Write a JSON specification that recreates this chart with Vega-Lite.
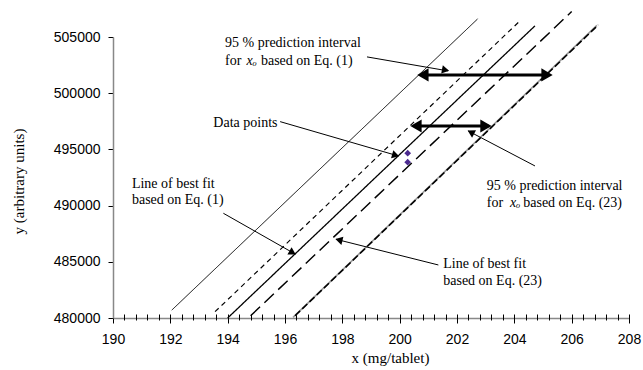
{
  "$schema": "https://vega.github.io/schema/vega-lite/v6.json",
  "width": 516,
  "height": 281,
  "autosize": {"type": "none"},
  "padding": {"left": 113, "top": 37, "right": 14, "bottom": 52},
  "background": "white",
  "config": {"view": {"stroke": null}, "axis": {"grid": false}},
  "datasets": {
    "lines": [
      {"series": "PI1U", "x": 192.05, "y": 480700}, {"series": "PI1U", "x": 202.72, "y": 506610},
      {"series": "PI23U", "x": 193.56, "y": 480560}, {"series": "PI23U", "x": 204.17, "y": 506370},
      {"series": "Fit1", "x": 194.0, "y": 480000}, {"series": "Fit1", "x": 204.72, "y": 505990},
      {"series": "Fit23", "x": 194.8, "y": 480200}, {"series": "Fit23", "x": 206.0, "y": 507260},
      {"series": "PI1L", "x": 196.35, "y": 480200}, {"series": "PI1L", "x": 206.93, "y": 506080}
    ],
    "gray": [{"x": 196.28, "y": 480050}, {"x": 206.88, "y": 506040}],
    "points": [{"x": 200.28, "y": 494660}, {"x": 200.28, "y": 493860}],
    "dbl": [
      {"y": 501630, "x": 200.75, "x2": 205.2},
      {"y": 497090, "x": 200.5, "x2": 203.1}
    ],
    "dblheads": [
      {"y": 501630, "x": 200.81, "dir": "left"},
      {"y": 501630, "x": 205.14, "dir": "right"},
      {"y": 497090, "x": 200.57, "dir": "left"},
      {"y": 497090, "x": 203.01, "dir": "right"}
    ],
    "arrows": [
      {"x": 198.86, "y": 503229, "x2": 201.69, "y2": 501983},
      {"x": 195.83, "y": 497471, "x2": 199.95, "y2": 494418},
      {"x": 193.85, "y": 489318, "x2": 196.35, "y2": 485696},
      {"x": 204.72, "y": 493528, "x2": 202.39, "y2": 496643},
      {"x": 201.35, "y": 484717, "x2": 197.78, "y2": 487004}
    ],
    "heads": [
      {"x": 201.56, "y": 502081, "heading": 101},
      {"x": 199.82, "y": 494516, "heading": 106},
      {"x": 196.23, "y": 485874, "heading": 120},
      {"x": 202.52, "y": 496474, "heading": 298},
      {"x": 197.92, "y": 486915, "heading": 284}
    ],
    "labels": [
      {"x": 193.91, "y": 504119, "label": "95 % prediction interval"},
      {"x": 193.91, "y": 502517, "label": "for"},
      {"x": 195.16, "y": 502517, "label": "based on Eq. (1)"},
      {"x": 193.5, "y": 496972, "label": "Data points"},
      {"x": 190.66, "y": 491597, "label": "Line of best fit"},
      {"x": 190.66, "y": 490146, "label": "based on Eq. (1)"},
      {"x": 203.04, "y": 491419, "label": "95 % prediction interval"},
      {"x": 203.04, "y": 489852, "label": "for"},
      {"x": 204.31, "y": 489852, "label": "based on Eq. (23)"},
      {"x": 201.52, "y": 484423, "label": "Line of best fit"},
      {"x": 201.52, "y": 482937, "label": "based on Eq. (23)"}
    ],
    "italics": [
      {"x": 194.66, "y": 502517, "label": "xₒ"},
      {"x": 203.85, "y": 489852, "label": "xₒ"}
    ]
  },
  "resolve": {"axis": {"x": "independent", "y": "independent"}},
  "layer": [
    {
      "data": {"name": "gray"},
      "mark": {"type": "line", "color": "#9a9a9a", "strokeWidth": 1.6},
      "encoding": {
        "x": {
          "field": "x", "type": "quantitative", "scale": {"domain": [190, 208], "nice": false, "zero": false},
          "axis": {"orient": "bottom", "domain": true, "domainColor": "#888888", "domainWidth": 1.5, "ticks": false, "labels": false, "title": null}
        },
        "y": {"field": "y", "type": "quantitative", "scale": {"domain": [480000, 505000], "nice": false, "zero": false}, "axis": null}
      }
    },
    {
      "data": {"name": "lines"},
      "mark": {"type": "line", "color": "#000000"},
      "encoding": {
        "x": {
          "field": "x", "type": "quantitative",
          "axis": {
            "orient": "bottom", "offset": -4,
            "values": [190, 192, 194, 196, 198, 200, 202, 204, 206, 208],
            "domain": false,
            "tickSize": 9, "tickColor": "#000000", "tickWidth": 1,
            "labelFont": "Liberation Sans", "labelFontSize": 14, "labelColor": "#000000", "labelPadding": 9,
            "labelFlush": false, "labelOverlap": false,
            "title": "x (mg/tablet)", "titleFont": "Liberation Serif", "titleFontSize": 15, "titleFontWeight": "normal",
            "titleColor": "#000000", "titleX": 277, "titleY": 43, "titleAlign": "center", "titleBaseline": "middle"
          }
        },
        "y": {
          "field": "y", "type": "quantitative",
          "axis": {
            "orient": "left",
            "values": [480000, 485000, 490000, 495000, 500000, 505000], "format": "d",
            "tickSize": 5, "tickColor": "#000000", "domainColor": "#888888", "domainWidth": 1.5,
            "labelFont": "Liberation Sans", "labelFontSize": 14, "labelColor": "#000000", "labelPadding": 8,
            "labelOverlap": false,
            "title": "y (arbitrary units)", "titleFont": "Liberation Serif", "titleFontSize": 15, "titleFontWeight": "normal",
            "titleColor": "#000000", "titleX": -95, "titleY": 144, "titleAlign": "center", "titleBaseline": "middle", "titleAngle": -90
          }
        },
        "detail": {"field": "series", "type": "nominal"},
        "strokeDash": {
          "field": "series", "type": "nominal",
          "scale": {"domain": ["PI1U", "PI23U", "Fit1", "Fit23", "PI1L"], "range": [[1, 0], [5, 4], [1, 0], [13, 6], [7, 3]]},
          "legend": null
        },
        "strokeWidth": {
          "field": "series", "type": "ordinal",
          "scale": {"domain": ["PI1U", "PI23U", "Fit1", "Fit23", "PI1L"], "range": [1, 1.6, 2.6, 2.6, 1.4]},
          "legend": null
        }
      }
    },
    {
      "data": {"name": "points"},
      "mark": {"type": "point", "shape": "diamond", "filled": true, "color": "#4b2a8f", "size": 45, "opacity": 1},
      "encoding": {
        "x": {
          "field": "x", "type": "quantitative",
          "axis": {
            "orient": "bottom", "offset": -4,
            "values": [190.4, 190.8, 191.2, 191.6, 192.4, 192.8, 193.2, 193.6, 194.4, 194.8, 195.2, 195.6, 196.4, 196.8, 197.2, 197.6, 198.4, 198.8, 199.2, 199.6, 200.4, 200.8, 201.2, 201.6, 202.4, 202.8, 203.2, 203.6, 204.4, 204.8, 205.2, 205.6, 206.4, 206.8, 207.2, 207.6],
            "domain": false, "tickSize": 6, "tickColor": "#000000", "tickWidth": 1,
            "labels": false, "title": null
          }
        },
        "y": {"field": "y", "type": "quantitative", "axis": null}
      }
    },
    {
      "data": {"name": "dbl"},
      "mark": {"type": "rule", "color": "#000000", "strokeWidth": 3},
      "encoding": {
        "x": {"field": "x", "type": "quantitative", "axis": null},
        "x2": {"field": "x2"},
        "y": {"field": "y", "type": "quantitative", "axis": null}
      }
    },
    {
      "data": {"name": "dblheads"},
      "mark": {"type": "point", "filled": true, "color": "#000000", "opacity": 1, "size": 170},
      "encoding": {
        "x": {"field": "x", "type": "quantitative", "axis": null},
        "y": {"field": "y", "type": "quantitative", "axis": null},
        "shape": {"field": "dir", "type": "nominal", "scale": {"domain": ["left", "right"], "range": ["triangle-left", "triangle-right"]}, "legend": null}
      }
    },
    {
      "data": {"name": "arrows"},
      "mark": {"type": "rule", "color": "#000000", "strokeWidth": 1},
      "encoding": {
        "x": {"field": "x", "type": "quantitative", "axis": null},
        "x2": {"field": "x2"},
        "y": {"field": "y", "type": "quantitative", "axis": null},
        "y2": {"field": "y2"}
      }
    },
    {
      "data": {"name": "heads"},
      "mark": {"type": "point", "shape": "triangle", "filled": true, "color": "#000000", "opacity": 1, "size": 70},
      "encoding": {
        "x": {"field": "x", "type": "quantitative", "axis": null},
        "y": {"field": "y", "type": "quantitative", "axis": null},
        "angle": {"field": "heading", "type": "quantitative", "scale": null}
      }
    },
    {
      "data": {"name": "labels"},
      "mark": {"type": "text", "font": "Liberation Serif", "fontSize": 14, "align": "left", "baseline": "alphabetic", "color": "#000000"},
      "encoding": {
        "x": {"field": "x", "type": "quantitative", "axis": null},
        "y": {"field": "y", "type": "quantitative", "axis": null},
        "text": {"field": "label"}
      }
    },
    {
      "data": {"name": "italics"},
      "mark": {"type": "text", "font": "Liberation Serif", "fontSize": 14, "fontStyle": "italic", "align": "left", "baseline": "alphabetic", "color": "#000000"},
      "encoding": {
        "x": {"field": "x", "type": "quantitative", "axis": null},
        "y": {"field": "y", "type": "quantitative", "axis": null},
        "text": {"field": "label"}
      }
    }
  ]
}
